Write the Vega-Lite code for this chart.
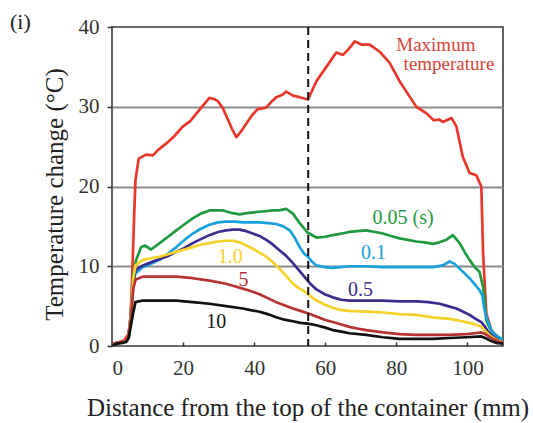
{
  "$schema": "https://vega.github.io/schema/vega-lite/v6.json",
  "width": 391,
  "height": 319,
  "autosize": {"type": "none"},
  "padding": {"left": 112, "top": 27, "right": 30, "bottom": 77},
  "background": "white",
  "title": {"text": "(i)", "anchor": "start", "frame": "group", "dx": -102, "dy": 22, "offset": 4, "fontSize": 22, "font": "Liberation Serif, Times New Roman, serif", "fontWeight": "normal", "color": "#222222"},
  "config": {"view": {"stroke": "#3a3a3a", "strokeWidth": 1.6}, "font": "Liberation Serif, Times New Roman, serif"},
  "datasets": {
    "curves": [
      {"s":"max","x":0.3,"y":0.3},{"s":"max","x":2,"y":0.5},{"s":"max","x":3.5,"y":0.7},{"s":"max","x":4.6,"y":1.5},{"s":"max","x":5.2,"y":3.5},{"s":"max","x":5.7,"y":9},{"s":"max","x":6.2,"y":16},{"s":"max","x":6.6,"y":20.8},{"s":"max","x":7.5,"y":23.5},{"s":"max","x":9.6,"y":24.0},{"s":"max","x":11.5,"y":23.9},{"s":"max","x":13,"y":24.6},{"s":"max","x":15.3,"y":25.4},{"s":"max","x":17.5,"y":26.3},{"s":"max","x":19.9,"y":27.5},{"s":"max","x":22,"y":28.2},{"s":"max","x":24.6,"y":29.6},{"s":"max","x":27.4,"y":31.1},{"s":"max","x":28.5,"y":31.0},{"s":"max","x":29.8,"y":30.7},{"s":"max","x":31.2,"y":29.8},{"s":"max","x":32.6,"y":28.4},{"s":"max","x":34,"y":27.0},{"s":"max","x":35,"y":26.2},{"s":"max","x":36.3,"y":26.9},{"s":"max","x":37.8,"y":27.9},{"s":"max","x":39.5,"y":29.0},{"s":"max","x":41,"y":29.7},{"s":"max","x":43.4,"y":29.9},{"s":"max","x":44.8,"y":30.6},{"s":"max","x":46.2,"y":31.2},{"s":"max","x":48,"y":31.5},{"s":"max","x":49,"y":31.9},{"s":"max","x":50.9,"y":31.4},{"s":"max","x":52.8,"y":31.2},{"s":"max","x":55.1,"y":30.9},{"s":"max","x":57.5,"y":33.2},{"s":"max","x":60.3,"y":35.0},{"s":"max","x":63.1,"y":36.8},{"s":"max","x":65,"y":36.5},{"s":"max","x":66.5,"y":37.2},{"s":"max","x":68.3,"y":38.2},{"s":"max","x":70.1,"y":37.8},{"s":"max","x":72.5,"y":37.8},{"s":"max","x":75.3,"y":36.9},{"s":"max","x":78.1,"y":35.5},{"s":"max","x":80.9,"y":33.2},{"s":"max","x":83.7,"y":31.3},{"s":"max","x":85.6,"y":30.0},{"s":"max","x":88.4,"y":29.2},{"s":"max","x":90.5,"y":28.3},{"s":"max","x":92,"y":28.4},{"s":"max","x":93.1,"y":28.1},{"s":"max","x":95.5,"y":28.6},{"s":"max","x":96.9,"y":27.5},{"s":"max","x":98.7,"y":23.7},{"s":"max","x":100.6,"y":21.7},{"s":"max","x":102.5,"y":21.4},{"s":"max","x":103.9,"y":20.0},{"s":"max","x":104.4,"y":11.6},{"s":"max","x":105.3,"y":4.1},{"s":"max","x":106.7,"y":2.0},{"s":"max","x":109,"y":0.9},{"s":"max","x":110,"y":0.7},

      {"s":"g","x":0.3,"y":0.2},{"s":"g","x":1.5,"y":0.4},{"s":"g","x":3,"y":0.5},{"s":"g","x":4,"y":0.6},{"s":"g","x":4.7,"y":1.2},{"s":"g","x":5.3,"y":4},{"s":"g","x":6.0,"y":9},{"s":"g","x":6.8,"y":10.8},{"s":"g","x":8.2,"y":12.4},{"s":"g","x":9.2,"y":12.6},{"s":"g","x":11,"y":12.1},{"s":"g","x":13.4,"y":12.9},{"s":"g","x":15.5,"y":13.6},{"s":"g","x":18.1,"y":14.5},{"s":"g","x":20.5,"y":15.3},{"s":"g","x":22.7,"y":16.0},{"s":"g","x":25,"y":16.6},{"s":"g","x":27.4,"y":17.0},{"s":"g","x":31.2,"y":17.0},{"s":"g","x":33.5,"y":16.7},{"s":"g","x":35.9,"y":16.5},{"s":"g","x":38.5,"y":16.7},{"s":"g","x":40.6,"y":16.8},{"s":"g","x":43,"y":16.9},{"s":"g","x":45.3,"y":17.0},{"s":"g","x":47,"y":17.0},{"s":"g","x":49,"y":17.2},{"s":"g","x":50.9,"y":16.6},{"s":"g","x":52.8,"y":15.4},{"s":"g","x":55.1,"y":14.2},{"s":"g","x":57.5,"y":13.6},{"s":"g","x":60,"y":13.7},{"s":"g","x":62.1,"y":13.9},{"s":"g","x":64.5,"y":14.1},{"s":"g","x":66.8,"y":14.3},{"s":"g","x":69,"y":14.4},{"s":"g","x":71.5,"y":14.5},{"s":"g","x":74,"y":14.3},{"s":"g","x":76.2,"y":14.1},{"s":"g","x":78.5,"y":13.8},{"s":"g","x":80.9,"y":13.5},{"s":"g","x":83.2,"y":13.3},{"s":"g","x":85.6,"y":13.1},{"s":"g","x":88,"y":13.0},{"s":"g","x":90.3,"y":12.8},{"s":"g","x":92,"y":13.0},{"s":"g","x":94,"y":13.3},{"s":"g","x":95.9,"y":13.9},{"s":"g","x":97.8,"y":12.9},{"s":"g","x":99.3,"y":11.7},{"s":"g","x":100.6,"y":10.8},{"s":"g","x":102,"y":9.9},{"s":"g","x":103.4,"y":9.3},{"s":"g","x":104.4,"y":7.4},{"s":"g","x":105.3,"y":3.2},{"s":"g","x":106.3,"y":2.2},{"s":"g","x":107.2,"y":1.6},{"s":"g","x":109.5,"y":0.9},{"s":"g","x":110,"y":0.8},

      {"s":"b","x":0.3,"y":0.2},{"s":"b","x":1.5,"y":0.4},{"s":"b","x":3,"y":0.5},{"s":"b","x":4,"y":0.6},{"s":"b","x":4.7,"y":1.2},{"s":"b","x":5.3,"y":4},{"s":"b","x":6.0,"y":8},{"s":"b","x":6.6,"y":9.1},{"s":"b","x":8.7,"y":9.9},{"s":"b","x":11,"y":10.3},{"s":"b","x":13.4,"y":10.8},{"s":"b","x":15.8,"y":11.6},{"s":"b","x":18.1,"y":12.4},{"s":"b","x":20.4,"y":13.3},{"s":"b","x":22.7,"y":14.1},{"s":"b","x":25,"y":14.7},{"s":"b","x":27.4,"y":15.2},{"s":"b","x":29.8,"y":15.5},{"s":"b","x":32.1,"y":15.6},{"s":"b","x":34.5,"y":15.6},{"s":"b","x":36.8,"y":15.5},{"s":"b","x":39,"y":15.5},{"s":"b","x":41.5,"y":15.5},{"s":"b","x":44,"y":15.4},{"s":"b","x":46.2,"y":15.3},{"s":"b","x":48.2,"y":15.0},{"s":"b","x":50,"y":14.5},{"s":"b","x":51.5,"y":13.5},{"s":"b","x":52.8,"y":12.4},{"s":"b","x":54,"y":11.6},{"s":"b","x":55.1,"y":11.2},{"s":"b","x":56.2,"y":10.6},{"s":"b","x":57.5,"y":10.1},{"s":"b","x":60,"y":9.9},{"s":"b","x":62.1,"y":9.8},{"s":"b","x":66.8,"y":10.0},{"s":"b","x":71.5,"y":10.0},{"s":"b","x":76.2,"y":9.9},{"s":"b","x":80.9,"y":9.9},{"s":"b","x":85.6,"y":9.9},{"s":"b","x":90.3,"y":9.9},{"s":"b","x":93,"y":10.1},{"s":"b","x":95,"y":10.6},{"s":"b","x":96.4,"y":10.3},{"s":"b","x":97.8,"y":9.7},{"s":"b","x":100.6,"y":8.5},{"s":"b","x":103.4,"y":7.0},{"s":"b","x":104.2,"y":6.3},{"s":"b","x":104.8,"y":4.5},{"s":"b","x":105.8,"y":3.0},{"s":"b","x":106.7,"y":2.0},{"s":"b","x":108,"y":1.3},{"s":"b","x":109.5,"y":0.9},{"s":"b","x":110,"y":0.8},

      {"s":"p","x":0.3,"y":0.2},{"s":"p","x":1.5,"y":0.4},{"s":"p","x":3,"y":0.5},{"s":"p","x":4,"y":0.6},{"s":"p","x":4.7,"y":1.2},{"s":"p","x":5.3,"y":4},{"s":"p","x":6.0,"y":8},{"s":"p","x":6.6,"y":9.5},{"s":"p","x":8.7,"y":10.1},{"s":"p","x":11,"y":10.5},{"s":"p","x":13.4,"y":10.9},{"s":"p","x":15.8,"y":11.3},{"s":"p","x":18.1,"y":11.8},{"s":"p","x":20.4,"y":12.3},{"s":"p","x":22.7,"y":12.9},{"s":"p","x":25,"y":13.4},{"s":"p","x":27.4,"y":13.9},{"s":"p","x":29.8,"y":14.3},{"s":"p","x":32.1,"y":14.5},{"s":"p","x":34,"y":14.6},{"s":"p","x":35.9,"y":14.6},{"s":"p","x":37.8,"y":14.4},{"s":"p","x":39.6,"y":14.1},{"s":"p","x":41.5,"y":13.8},{"s":"p","x":43.4,"y":13.3},{"s":"p","x":45.3,"y":12.7},{"s":"p","x":47.1,"y":12.0},{"s":"p","x":49,"y":11.3},{"s":"p","x":50.9,"y":10.4},{"s":"p","x":52.8,"y":9.4},{"s":"p","x":54.7,"y":8.4},{"s":"p","x":56,"y":7.7},{"s":"p","x":57.5,"y":7.1},{"s":"p","x":59.8,"y":6.5},{"s":"p","x":62.1,"y":6.1},{"s":"p","x":64.5,"y":5.8},{"s":"p","x":66.8,"y":5.7},{"s":"p","x":71.5,"y":5.7},{"s":"p","x":76.2,"y":5.7},{"s":"p","x":80.9,"y":5.6},{"s":"p","x":85.6,"y":5.6},{"s":"p","x":89,"y":5.5},{"s":"p","x":92.2,"y":5.3},{"s":"p","x":94.5,"y":5.0},{"s":"p","x":96.9,"y":4.7},{"s":"p","x":98.8,"y":4.3},{"s":"p","x":100.6,"y":3.9},{"s":"p","x":102.3,"y":3.4},{"s":"p","x":103.9,"y":3.0},{"s":"p","x":104.8,"y":2.5},{"s":"p","x":105.8,"y":1.8},{"s":"p","x":107.4,"y":1.1},{"s":"p","x":109,"y":0.6},{"s":"p","x":110,"y":0.5},

      {"s":"y","x":0.3,"y":0.2},{"s":"y","x":1.5,"y":0.4},{"s":"y","x":3,"y":0.5},{"s":"y","x":4,"y":0.6},{"s":"y","x":4.7,"y":1.2},{"s":"y","x":5.3,"y":4},{"s":"y","x":6.0,"y":8.5},{"s":"y","x":6.6,"y":10.1},{"s":"y","x":8.7,"y":10.8},{"s":"y","x":11,"y":11.0},{"s":"y","x":13.4,"y":11.2},{"s":"y","x":15.8,"y":11.5},{"s":"y","x":18.1,"y":11.8},{"s":"y","x":20.4,"y":12.1},{"s":"y","x":22.7,"y":12.4},{"s":"y","x":25,"y":12.7},{"s":"y","x":27.4,"y":12.9},{"s":"y","x":29.8,"y":13.1},{"s":"y","x":32.1,"y":13.2},{"s":"y","x":34,"y":13.2},{"s":"y","x":35.9,"y":13.0},{"s":"y","x":37.8,"y":12.6},{"s":"y","x":39.6,"y":12.2},{"s":"y","x":41.5,"y":11.7},{"s":"y","x":43.4,"y":11.2},{"s":"y","x":45.3,"y":10.5},{"s":"y","x":47.1,"y":9.7},{"s":"y","x":49,"y":8.8},{"s":"y","x":50.9,"y":7.8},{"s":"y","x":52.8,"y":7.2},{"s":"y","x":54.7,"y":6.7},{"s":"y","x":56,"y":6.2},{"s":"y","x":57.5,"y":5.7},{"s":"y","x":59.8,"y":5.2},{"s":"y","x":62.1,"y":4.8},{"s":"y","x":64.5,"y":4.5},{"s":"y","x":66.8,"y":4.4},{"s":"y","x":71.5,"y":4.3},{"s":"y","x":76.2,"y":4.2},{"s":"y","x":80.9,"y":4.0},{"s":"y","x":85.6,"y":3.9},{"s":"y","x":90.3,"y":3.6},{"s":"y","x":95,"y":3.4},{"s":"y","x":98.5,"y":3.1},{"s":"y","x":101.5,"y":2.8},{"s":"y","x":103.9,"y":2.4},{"s":"y","x":105,"y":1.9},{"s":"y","x":106.3,"y":1.3},{"s":"y","x":108,"y":0.8},{"s":"y","x":109,"y":0.6},{"s":"y","x":110,"y":0.5},

      {"s":"r","x":0.3,"y":0.2},{"s":"r","x":1.5,"y":0.4},{"s":"r","x":3,"y":0.5},{"s":"r","x":4,"y":0.6},{"s":"r","x":4.7,"y":1.2},{"s":"r","x":5.3,"y":3.5},{"s":"r","x":6.0,"y":7.2},{"s":"r","x":6.6,"y":8.3},{"s":"r","x":8.7,"y":8.7},{"s":"r","x":13.4,"y":8.7},{"s":"r","x":18.1,"y":8.7},{"s":"r","x":22.7,"y":8.5},{"s":"r","x":27.4,"y":8.2},{"s":"r","x":32.1,"y":7.8},{"s":"r","x":34.5,"y":7.5},{"s":"r","x":36.8,"y":7.2},{"s":"r","x":39,"y":6.9},{"s":"r","x":41.5,"y":6.5},{"s":"r","x":43.8,"y":6.0},{"s":"r","x":46.2,"y":5.5},{"s":"r","x":48.5,"y":5.1},{"s":"r","x":50.9,"y":4.7},{"s":"r","x":53,"y":4.4},{"s":"r","x":55.1,"y":4.1},{"s":"r","x":57.5,"y":3.7},{"s":"r","x":59.8,"y":3.3},{"s":"r","x":62.1,"y":3.0},{"s":"r","x":64.5,"y":2.7},{"s":"r","x":66.8,"y":2.4},{"s":"r","x":69,"y":2.2},{"s":"r","x":71.5,"y":2.0},{"s":"r","x":76.2,"y":1.7},{"s":"r","x":80.9,"y":1.5},{"s":"r","x":85.6,"y":1.4},{"s":"r","x":90.3,"y":1.4},{"s":"r","x":95,"y":1.4},{"s":"r","x":99.7,"y":1.5},{"s":"r","x":102,"y":1.6},{"s":"r","x":103.9,"y":1.7},{"s":"r","x":105,"y":1.5},{"s":"r","x":106.3,"y":1.1},{"s":"r","x":108,"y":0.7},{"s":"r","x":109,"y":0.5},{"s":"r","x":110,"y":0.4},

      {"s":"k","x":0.3,"y":0.1},{"s":"k","x":1.5,"y":0.3},{"s":"k","x":3,"y":0.4},{"s":"k","x":4,"y":0.5},{"s":"k","x":4.7,"y":1.0},{"s":"k","x":5.3,"y":2.5},{"s":"k","x":5.9,"y":4.0},{"s":"k","x":6.6,"y":5.5},{"s":"k","x":8.7,"y":5.7},{"s":"k","x":13.4,"y":5.7},{"s":"k","x":18.1,"y":5.7},{"s":"k","x":22.7,"y":5.5},{"s":"k","x":27.4,"y":5.3},{"s":"k","x":32.1,"y":5.0},{"s":"k","x":36.8,"y":4.7},{"s":"k","x":39,"y":4.5},{"s":"k","x":41.5,"y":4.3},{"s":"k","x":43.8,"y":4.0},{"s":"k","x":46.2,"y":3.6},{"s":"k","x":48.5,"y":3.3},{"s":"k","x":50.9,"y":3.1},{"s":"k","x":53,"y":2.9},{"s":"k","x":55.1,"y":2.8},{"s":"k","x":57.5,"y":2.6},{"s":"k","x":60,"y":2.3},{"s":"k","x":62.1,"y":2.0},{"s":"k","x":64.5,"y":1.8},{"s":"k","x":66.8,"y":1.6},{"s":"k","x":71.5,"y":1.4},{"s":"k","x":76.2,"y":1.1},{"s":"k","x":80.9,"y":0.9},{"s":"k","x":85.6,"y":0.9},{"s":"k","x":90.3,"y":0.9},{"s":"k","x":95,"y":1.0},{"s":"k","x":99.7,"y":1.1},{"s":"k","x":103.9,"y":1.2},{"s":"k","x":105,"y":1.0},{"s":"k","x":106.3,"y":0.7},{"s":"k","x":108,"y":0.4},{"s":"k","x":110,"y":0.3}
    ],
    "labels": [
      {"s":"g","t":"0.05 (s)","x":81.9,"y":16.0},
      {"s":"b","t":"0.1","x":73.6,"y":11.6},
      {"s":"p","t":"0.5","x":69.9,"y":7.0},
      {"s":"y","t":"1.0","x":33.3,"y":11.2},
      {"s":"r","t":"5","x":37.0,"y":8.25},
      {"s":"k","t":"10","x":29.3,"y":3.0}
    ],
    "maxlabels": [
      {"t":"Maximum","x":91.1,"y":37.8},
      {"t":"temperature","x":94.8,"y":35.4}
    ],
    "divider": [{"x": 55.2}]
  },
  "layer": [
    {
      "data": {"name": "curves"},
      "mark": {"type": "line", "strokeWidth": 2.7, "strokeJoin": "round"},
      "encoding": {
        "x": {"field": "x", "type": "quantitative",
          "scale": {"domain": [0, 110], "nice": false, "zero": false},
          "axis": {
            "values": [0,10,20,30,40,50,60,70,80,90,100,110],
            "labelExpr": "(datum.value % 20 == 0 && datum.value <= 100) ? datum.label : ''",
            "grid": false, "domain": false,
            "tickSize": -4, "tickColor": "#333333", "tickWidth": 1.5,
            "labelPadding": 15, "labelFont": "Liberation Serif, Times New Roman, serif", "labelFontSize": 21, "labelColor": "#333333",
            "title": "Distance from the top of the container (mm)",
            "titleFont": "Liberation Serif, Times New Roman, serif", "titleFontSize": 25, "titleFontWeight": "normal", "titleColor": "#222222",
            "titleY": 69, "titleBaseline": "alphabetic"
          }},
        "y": {"field": "y", "type": "quantitative",
          "scale": {"domain": [0, 40], "nice": false},
          "axis": {
            "values": [0,10,20,30,40],
            "grid": true, "gridColor": "#8c8c8c", "gridWidth": 2,
            "gridOpacity": {"condition": {"test": "datum.value == 0 || datum.value == 40", "value": 0}, "value": 1},
            "domain": false,
            "tickSize": 5, "tickColor": "#333333", "tickWidth": 1.5,
            "labelPadding": 8, "labelFont": "Liberation Serif, Times New Roman, serif", "labelFontSize": 21, "labelColor": "#333333",
            "title": "Temperature change (°C)",
            "titleFont": "Liberation Serif, Times New Roman, serif", "titleFontSize": 25, "titleFontWeight": "normal", "titleColor": "#222222",
            "titleX": -45, "titleY": 167, "titleBaseline": "bottom"
          }},
        "color": {"field": "s", "type": "nominal", "legend": null,
          "scale": {"domain": ["k","r","y","p","b","g","max"], "range": ["#111111","#b83232","#f5d22a","#3d2b8e","#18a2dc","#1f9a3f","#e8372b"]}}
      }
    },
    {
      "data": {"name": "divider"},
      "mark": {"type": "rule", "strokeDash": [8, 5], "strokeWidth": 2, "color": "#111111"},
      "encoding": {"x": {"field": "x", "type": "quantitative"}}
    },
    {
      "data": {"name": "labels"},
      "mark": {"type": "text", "font": "Liberation Serif, Times New Roman, serif", "fontSize": 20, "align": "center", "baseline": "middle"},
      "encoding": {
        "x": {"field": "x", "type": "quantitative"},
        "y": {"field": "y", "type": "quantitative"},
        "text": {"field": "t"},
        "color": {"field": "s", "type": "nominal", "legend": null}
      }
    },
    {
      "data": {"name": "maxlabels"},
      "mark": {"type": "text", "font": "Liberation Serif, Times New Roman, serif", "fontSize": 19, "align": "center", "baseline": "middle", "color": "#d9443a"},
      "encoding": {
        "x": {"field": "x", "type": "quantitative"},
        "y": {"field": "y", "type": "quantitative"},
        "text": {"field": "t"}
      }
    }
  ]
}
